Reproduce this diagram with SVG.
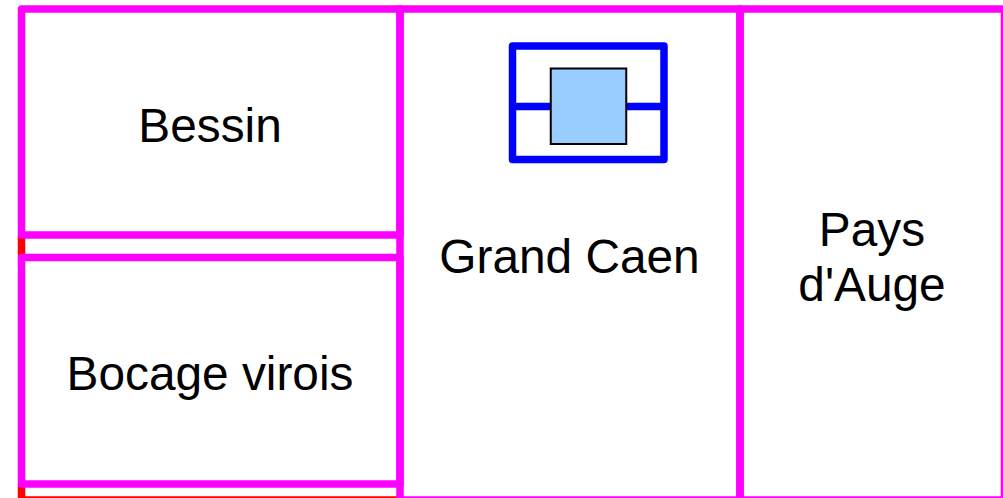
<svg xmlns="http://www.w3.org/2000/svg" width="1003" height="498" viewBox="0 0 1003 498">
<style>
.box{fill:none;stroke:#ff00ff;stroke-width:7.5;stroke-linejoin:round}
.red{fill:none;stroke:#ff0000;stroke-width:7.5}
.blue{fill:none;stroke:#0000ff;stroke-width:7.5;stroke-linejoin:round}
text{font-family:"Liberation Sans",Arial,sans-serif;font-size:47.800px;fill:#000;text-anchor:middle}
</style>
<rect width="1003" height="498" fill="#fff"/>
<g id="connectors">
<path class="red" d="M21.500 235V258M21.500 484V500H400"/>
</g>
<g id="bessin"><rect class="box" x="21.500" y="9" width="378.500" height="226"/><text x="210" y="142">Bessin</text></g>
<g id="bocage"><rect class="box" x="21.500" y="257.500" width="378.500" height="226.500"/><text x="210" y="390">Bocage virois</text></g>
<g id="grand-caen"><rect class="box" x="400" y="9" width="340" height="491"/><text x="569.500" y="273">Grand Caen</text></g>
<g id="pays-auge"><rect class="box" x="740" y="9" width="264.500" height="491"/><text x="872" y="246">Pays</text><text x="872" y="301">d'Auge</text></g>
<g id="symbol"><rect class="blue" x="512.500" y="46" width="151.500" height="113.500"/><path class="blue" d="M512.500 106.500H664"/><rect x="550.750" y="68.500" width="75.500" height="75.500" fill="#99ccff" stroke="#000" stroke-width="2"/></g>
</svg>
